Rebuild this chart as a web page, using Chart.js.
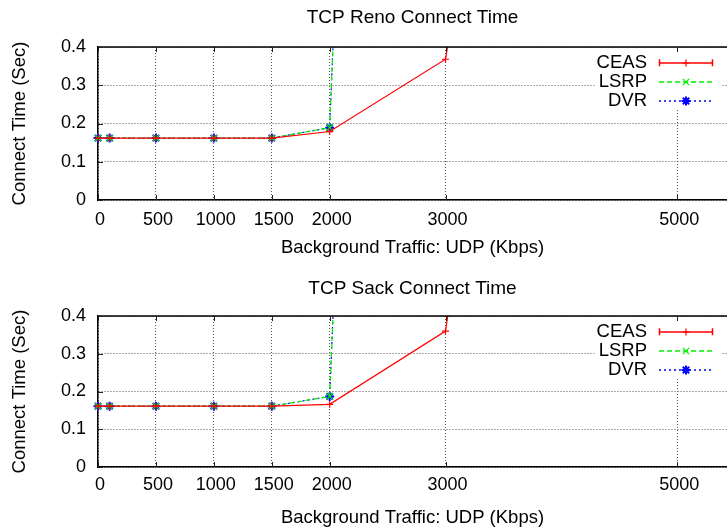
<!DOCTYPE html>
<html>
<head>
<meta charset="utf-8">
<script src="https://cdn.jsdelivr.net/npm/chart.js@4.4.0/dist/chart.umd.min.js"></script>
<style>
html,body{margin:0;padding:0;background:#fff;overflow:hidden;}
#wrap{position:relative;width:727px;height:531px;overflow:hidden;background:#fff;}
canvas{position:absolute;left:0;display:block;}
</style>
</head>
<body>
<div id="wrap">
  <canvas id="c1" width="727" height="265" style="top:0;width:727px;height:265px"></canvas>
  <canvas id="c2" width="727" height="266" style="top:265px;width:727px;height:266px"></canvas>
</div>
<script>
// ---- data ----
const xValues      = [0, 100, 500, 1000, 1500, 2000, 3000, 4000];
const xTickValues  = [0, 500, 1000, 1500, 2000, 3000, 5000];
const yTickValues  = [0, 0.1, 0.2, 0.3, 0.4];
const seriesNames  = ['CEAS', 'LSRP', 'DVR'];

const renoTitle = 'TCP Reno Connect Time';
const renoCEAS  = [0.162, 0.162, 0.162, 0.162, 0.162, 0.179, 0.368, 2.2];
const renoLSRP  = [0.162, 0.162, 0.162, 0.162, 0.162, 0.189, 7.6, null];
const renoDVR   = [0.162, 0.162, 0.162, 0.162, 0.162, 0.189, 7.6, null];

const sackTitle = 'TCP Sack Connect Time';
const sackCEAS  = [0.161, 0.161, 0.161, 0.161, 0.161, 0.166, 0.360, 2.4];
const sackLSRP  = [0.161, 0.161, 0.161, 0.161, 0.161, 0.187, 7.6, null];
const sackDVR   = [0.161, 0.161, 0.161, 0.161, 0.161, 0.187, 7.6, null];

const xAxisTitle = 'Background Traffic: UDP (Kbps)';
const yAxisTitle = 'Connect Time (Sec)';

// ---- styling ----
const FONT = '"Liberation Sans", Arial, Helvetica, sans-serif';

function toPoints(arr) {
  return xValues.map((x, i) => ({x: x, y: arr[i]})).filter(p => p.y !== null);
}

function drawMarker(ctx, ds, x, y) {
  const h = Chart.helpers;
  ctx.strokeStyle = ds.borderColor;
  ctx.fillStyle = ds.borderColor;
  ctx.lineWidth = ds.pointBorderWidth;
  ctx.setLineDash([]);
  if (h && h.drawPoint) {
    h.drawPoint(ctx, {pointStyle: ds.pointStyle, rotation: 0, radius: ds.pointRadius, borderWidth: ds.pointBorderWidth}, x, y);
  }
}

const framePlugin = {
  id: 'frame',
  afterDatasetsDraw(chart) {
    const {ctx, chartArea: a, scales} = chart;
    const xs = scales.x, ys = scales.y;
    ctx.save();
    ctx.setLineDash([]);
    ctx.strokeStyle = '#000';
    ctx.lineWidth = 1.5;
    ctx.beginPath();
    ctx.moveTo(a.left, a.top);
    ctx.lineTo(a.right, a.top);
    ctx.stroke();
    ctx.lineWidth = 1;
    ctx.strokeStyle = '#222';
    ctx.beginPath();
    xs.ticks.forEach(t => {
      const px = Math.round(xs.getPixelForValue(t.value)) + 0.5;
      ctx.moveTo(px, a.bottom); ctx.lineTo(px, a.bottom - 5);
      ctx.moveTo(px, a.top); ctx.lineTo(px, a.top + 5);
    });
    ys.ticks.forEach(t => {
      const py = Math.round(ys.getPixelForValue(t.value)) + 0.5;
      ctx.moveTo(a.left, py); ctx.lineTo(a.left + 5, py);
    });
    ctx.stroke();
    ctx.restore();
  }
};

const keyPlugin = {
  id: 'key',
  afterDraw(chart) {
    const {ctx, chartArea: a} = chart;
    const dsets = chart.data.datasets;
    ctx.save();
    ctx.font = '18.5px ' + FONT;
    const W = chart.width;
    const textRight = W - 80;
    const lineL = W - 68, lineR = W - 14;
    const row0 = a.top + 15.7, rowH = 19;
    const maxW = Math.max(...dsets.map(d => ctx.measureText(d.label).width));
    const boxL = textRight - maxW - 2;
    ctx.fillStyle = '#fff';
    ctx.fillRect(boxL, row0 - 10, (W - 5) - boxL, rowH * (dsets.length - 1) + 18);
    dsets.forEach((ds, i) => {
      const yy = row0 + i * rowH;
      ctx.fillStyle = '#000';
      ctx.textAlign = 'right';
      ctx.textBaseline = 'middle';
      ctx.fillText(ds.label, textRight, yy);
      ctx.strokeStyle = ds.borderColor;
      ctx.lineWidth = 1.5;
      ctx.setLineDash(ds.borderDash || []);
      ctx.beginPath();
      ctx.moveTo(lineL, Math.round(yy));
      ctx.lineTo(lineR, Math.round(yy));
      ctx.stroke();
      ctx.setLineDash([]);
      if (ds.errorBar) {
        ctx.beginPath();
        ctx.moveTo(lineL + 0.5, yy - 3.5); ctx.lineTo(lineL + 0.5, yy + 3.5);
        ctx.moveTo(lineR - 0.5, yy - 3.5); ctx.lineTo(lineR - 0.5, yy + 3.5);
        ctx.stroke();
      }
      drawMarker(ctx, ds, (lineL + lineR) / 2, Math.round(yy));
    });
    ctx.restore();
  }
};

function build(id, titleText, ceas, lsrp, dvr, L) {
  const clip = {left: 8, top: 0.5, right: 0, bottom: 8};
  return new Chart(document.getElementById(id), {
    type: 'line',
    data: {
      datasets: [
        {label: seriesNames[0], data: toPoints(ceas), borderColor: '#ff0000', backgroundColor: '#ff0000',
         borderWidth: 1.2, pointStyle: 'cross', pointRadius: 3.5, pointBorderWidth: 1.2, errorBar: true, tension: 0, clip: clip},
        {label: seriesNames[1], data: toPoints(lsrp), borderColor: '#00ee00', backgroundColor: '#00ee00',
         borderWidth: 1.2, borderDash: [5, 3], pointStyle: 'crossRot', pointRadius: 4.5, pointBorderWidth: 1.2, tension: 0, clip: clip},
        {label: seriesNames[2], data: toPoints(dvr), borderColor: '#0000ff', backgroundColor: '#0000ff',
         borderWidth: 1.2, borderDash: [2, 3], pointStyle: 'star', pointRadius: 4.5, pointBorderWidth: 2, tension: 0, clip: clip}
      ]
    },
    options: {
      responsive: false,
      animation: false,
      devicePixelRatio: 1,
      layout: {padding: 0, autoPadding: false},
      plugins: {
        legend: {display: false},
        tooltip: {enabled: false},
        title: {
          display: true, text: titleText, fullSize: false, color: '#000',
          font: {family: FONT, size: 19, weight: 'normal'},
          padding: {top: L.tTop, bottom: L.tBot}
        }
      },
      scales: {
        x: {
          type: 'linear', min: 0, max: 5430,
          afterBuildTicks: s => { s.ticks = xTickValues.map(v => ({value: v})); },
          afterFit: s => { s.height = L.xH; s.paddingRight = 0; s.paddingLeft = 0; },
          grid: {color: '#555', lineWidth: 1, drawTicks: false},
          border: {display: true, color: '#000', width: 1.5, dash: [1, 2]},
          ticks: {color: '#000', font: {family: FONT, size: 18}, padding: L.xTickPad, labelOffset: 2,
                  maxRotation: 0, autoSkip: false, callback: v => String(v)},
          title: {display: true, text: xAxisTitle, color: '#000', font: {family: FONT, size: 18.5},
                  padding: {top: 0, bottom: L.xTitleBot}}
        },
        y: {
          type: 'linear', min: 0, max: 0.4,
          afterBuildTicks: s => { s.ticks = yTickValues.map(v => ({value: v})); },
          afterFit: s => { s.width = 98; },
          grid: {color: '#555', lineWidth: 1, drawTicks: false},
          border: {display: true, color: '#000', width: 1.5, dash: [1, 2]},
          ticks: {color: '#000', font: {family: FONT, size: 18}, padding: 12,
                  callback: v => (v === 0 ? '0' : Number(v).toFixed(1))},
          title: {display: true, text: yAxisTitle, color: '#000', font: {family: FONT, size: 18.5},
                  padding: {top: 9, bottom: 0}}
        }
      }
    },
    plugins: [framePlugin, keyPlugin]
  });
}

build('c1', renoTitle, renoCEAS, renoLSRP, renoDVR,
      {tTop: 6.5, tBot: 17.7, xH: 65, xTickPad: 9, xTitleBot: 6});
build('c2', sackTitle, sackCEAS, sackLSRP, sackDVR,
      {tTop: 12, tBot: 16.2, xH: 64, xTickPad: 7, xTitleBot: 2});
</script>
</body>
</html>
